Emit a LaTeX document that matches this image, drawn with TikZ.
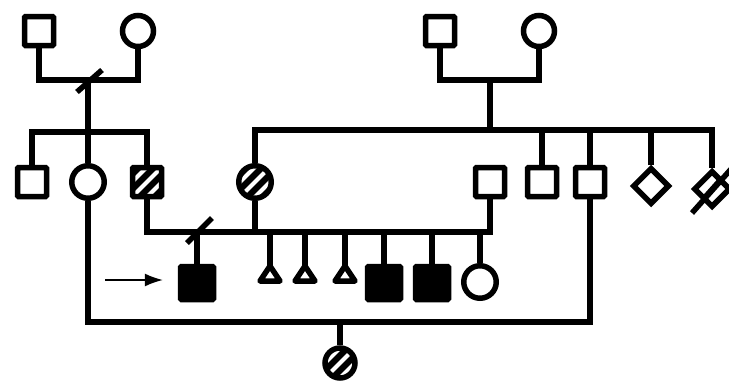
\documentclass[tikz,border=0pt]{standalone}
\usetikzlibrary{shapes.geometric,arrows.meta}
\begin{document}
\begin{tikzpicture}[x=1pt,y=-1pt,
  lw/.style={line width=5.5pt},
  conn/.style={lw},
  male/.style={draw,lw,rectangle,minimum size=29pt,inner sep=0pt,rounded corners=1pt},
  female/.style={draw,lw,circle,minimum size=31pt,inner sep=0pt},
  unk/.style={draw,lw,diamond,minimum width=37pt,minimum height=37pt,inner sep=0pt},
  affected/.style={fill=black},
  hatched/.style={path picture={
    \fill[black] (path picture bounding box.south west) rectangle (path picture bounding box.north east);
    \foreach \d in {-15,0,15}{
      \draw[white,line width=4pt] ([shift={(\d-25,25)}]path picture bounding box.center) -- ++(50,-50);
    }}},
  slashhatch/.style={path picture={
    \draw[black,line width=5pt] ([shift={(-25,28)}]path picture bounding box.center) -- ++(50,-56);
    }},
  pointer/.style={line width=1.3pt,-{Latex[length=18pt,width=13pt]}},
  tri/.style={lw,line join=round}
]
\fill[white] (0,0) rectangle (729,383);
\useasboundingbox (0,0) rectangle (729,383);

% Generation I
\node[male]   (GF1) at (39,31) {};
\node[female] (GM1) at (138,31) {};
\node[male]   (GF2) at (440,31) {};
\node[female] (GM2) at (539,31) {};
\coordinate (m1) at (88,80);
\coordinate (m2) at (490,80);
\coordinate (s1) at (88,132);
\coordinate (s2) at (490,130);

% Generation II
\node[male]            (A) at (32,182) {};
\node[female,minimum size=32.5pt] (B) at (88,182) {};
\node[male,hatched]    (C) at (147,182) {};
\node[female,hatched,minimum size=32.5pt] (D) at (255,182) {};
\node[male]            (E) at (490,182) {};
\node[male]            (F) at (542,182) {};
\node[male]            (G) at (590,182) {};
\node[unk]             (H) at (651,186) {};
\node[unk,slashhatch]  (J) at (712,189) {};
\coordinate (m3) at (197,232);

% Generation III
\node[male,affected,minimum size=33pt] (P) at (197,283) {};
\coordinate (T1) at (270,266);
\coordinate (T2) at (305,266);
\coordinate (T3) at (345,266);
\node[male,affected,minimum size=33pt] (K1) at (384,283) {};
\node[male,affected,minimum size=33pt] (K2) at (432,283) {};
\node[female,minimum size=32.5pt] (L) at (480,282) {};
\coordinate (m4) at (340,322);

% Generation IV
\node[female,hatched,minimum size=30pt] (IV) at (340,363) {};

% connectors generation I
\draw[conn] (GF1.south) |- (m1) -| (GM1.south);
\draw[conn] (m1) -- (s1);
\draw[conn] ([shift={(-11,12)}]m1) -- ([shift={(14,-10)}]m1);
\draw[conn] (GF2.south) |- (m2) -| (GM2.south);
\draw[conn] (m2) -- (s2);

% sibships generation II
\draw[conn] (A.north) |- (s1) -| (C.north);
\draw[conn] (s1) -- (B.north);
\draw[conn] (D.north) |- (s2) -| (J.north);
\draw[conn] (F.north |- s2) -- (F.north);
\draw[conn] (G.north |- s2) -- (G.north);
\draw[conn] (H.north |- s2) -- (H.north);
\draw[conn] ([shift={(-20,24)}]J.center) -- ([shift={(20,-21)}]J.center);

% marriage II -> III
\draw[conn] (C.south) |- (m3) -| (E.south);
\draw[conn] (D.south) -- (D.south |- m3);
\draw[conn] ([shift={(-10,11)}]m3) -- ([shift={(15,-14)}]m3);
\draw[conn] (m3) -- (P.north);
\foreach \t in {T1,T2,T3}{
  \draw[conn] (\t |- m3) -- (\t);
  \draw[tri] (\t) -- ++(-10,15) -- ++(20,0) -- cycle;
}
\draw[conn] (K1.north |- m3) -- (K1.north);
\draw[conn] (K2.north |- m3) -- (K2.north);
\draw[conn] (L.north |- m3) -- (L.north);

% marriage II -> IV
\draw[conn] (B.south) |- (m4) -| (G.south);
\draw[conn] (m4) -- (IV.north);

% proband arrow
\coordinate (arr) at (105,280);
\draw[pointer] (arr) -- ([xshift=-15pt]P.west |- arr);
\end{tikzpicture}
\end{document}
